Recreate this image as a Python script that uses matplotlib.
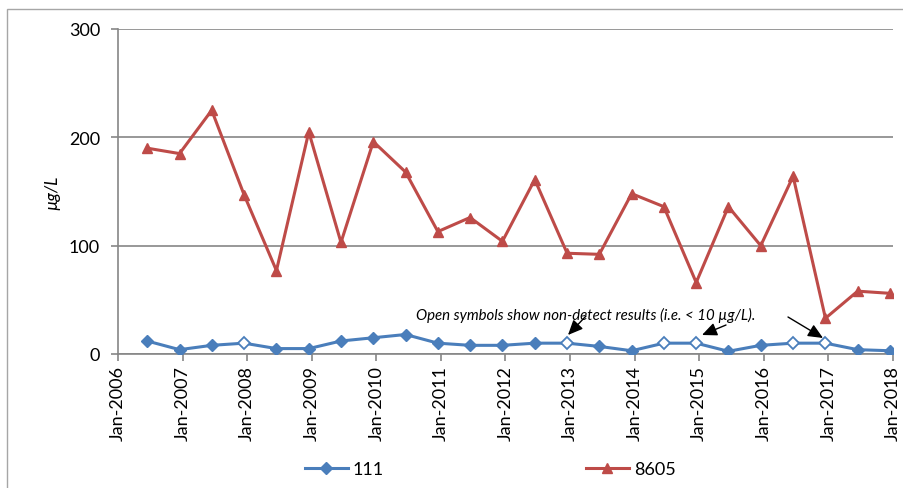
import matplotlib
matplotlib.use("Agg")
import matplotlib.pyplot as plt
import matplotlib.dates as mdates
import datetime as dt
import numpy as np

# ---- data ----
dates = []
for yr in range(2006, 2018):
    dates.append(dt.date(yr, 6, 15))
    dates.append(dt.date(yr, 12, 15))

s111 = [12, 4, 8, 10, 5, 5, 12, 15, 18, 10, 8, 8, 10, 10, 7, 3, 10, 10, 2.5, 8, 10, 10, 4, 3]
s111_nondetect = [False, False, False, True, False, False, False, False, False, False, False, False,
                  False, True, False, False, True, True, False, False, True, True, False, False]
s8605 = [190, 185, 225, 147, 77, 205, 103, 196, 168, 113, 126, 104,
         161, 93, 92, 148, 136, 66, 136, 100, 164, 33, 58, 56]

xtick_years = list(range(2006, 2019))
yticks = [0, 100, 200, 300]
note = "Open symbols show non-detect results (i.e. < 10 µg/L)."

# ---- styling ----
plt.rcParams['font.family'] = ['Lato', 'DejaVu Sans']
blue = "#4a7ebb"
red = "#be4b48"
grid_c = "#868686"

W, H = 904, 489
fig = plt.figure(figsize=(W / 100, H / 100), dpi=100)
# outer frame (Excel chart area border)
fig.patches.append(plt.Rectangle((7 / W, -0.1), 1.2, 1 - 10 / H + 0.1, transform=fig.transFigure,
                                 fill=False, edgecolor="#a6a6a6", linewidth=1.0, zorder=0))

ax = fig.add_axes([118 / W, 1 - 355 / H, (893 - 118) / W, (355 - 30) / H])

ax.plot(dates, s8605, color=red, lw=2.2, marker='^', markersize=7.5,
        markerfacecolor=red, markeredgecolor=red, label="8605", zorder=3)
ax.plot(dates, s111, color=blue, lw=2.2, zorder=3)
d_arr = np.array(dates)
v_arr = np.array(s111)
nd = np.array(s111_nondetect)
ax.plot(d_arr[~nd], v_arr[~nd], ls='none', marker='D', markersize=6.5,
        markerfacecolor=blue, markeredgecolor=blue, zorder=4)
ax.plot(d_arr[nd], v_arr[nd], ls='none', marker='D', markersize=6.5,
        markerfacecolor='white', markeredgecolor=blue, markeredgewidth=1.3, zorder=4)
# legend proxies
h111, = ax.plot([], [], color=blue, lw=2.2, marker='D', markersize=6.5,
                markerfacecolor=blue, markeredgecolor=blue, label="111")
h8605, = ax.plot([], [], color=red, lw=2.2, marker='^', markersize=7.5,
                 markerfacecolor=red, markeredgecolor=red, label="8605")

ax.set_xlim(dt.date(2006, 1, 1), dt.date(2018, 1, 1))
ax.set_ylim(0, 300)
ax.set_yticks(yticks)
ax.set_xticks([dt.date(y, 1, 1) for y in xtick_years])
ax.xaxis.set_major_formatter(mdates.DateFormatter("%b-%Y"))
plt.setp(ax.get_xticklabels(), rotation=90)

for sp in ['top', 'right']:
    ax.spines[sp].set_visible(False)
for sp in ['left', 'bottom']:
    ax.spines[sp].set_color(grid_c)
    ax.spines[sp].set_linewidth(1.2)
ax.grid(axis='y', color=grid_c, lw=1.2)
ax.set_axisbelow(True)
ax.tick_params(axis='both', colors=grid_c, length=5, width=1.2, labelcolor='black', labelsize=13)
ax.tick_params(axis='x', pad=3)
ax.tick_params(axis='y', pad=8)

ax.set_ylabel("µg/L", fontstyle='italic', fontsize=12.5, labelpad=6)

# annotation text and arrows (positions in pixel coordinates of figure)
def px(x, y):
    return (x / W, 1 - y / H)

fig.text(*px(586, 315), note, fontstyle='italic', fontsize=10.8, ha='center', va='center')
for tail, head in [((586, 317), (568, 336)), ((726, 326), (702, 336)), ((788, 318), (823, 339))]:
    ax.annotate("", xy=px(*head), xycoords='figure fraction', xytext=px(*tail),
                textcoords='figure fraction',
                arrowprops=dict(arrowstyle='-|>,head_length=0.9,head_width=0.4', color='black', lw=1.0,
                                shrinkA=0, shrinkB=0))

fig.legend(handles=[h111, h8605], loc='center', bbox_to_anchor=(490 / W, 1 - 470 / H), ncol=2,
           frameon=False, fontsize=13, handlelength=2.4, handletextpad=0.25, columnspacing=11.2)

fig.savefig("out.png", dpi=100)
